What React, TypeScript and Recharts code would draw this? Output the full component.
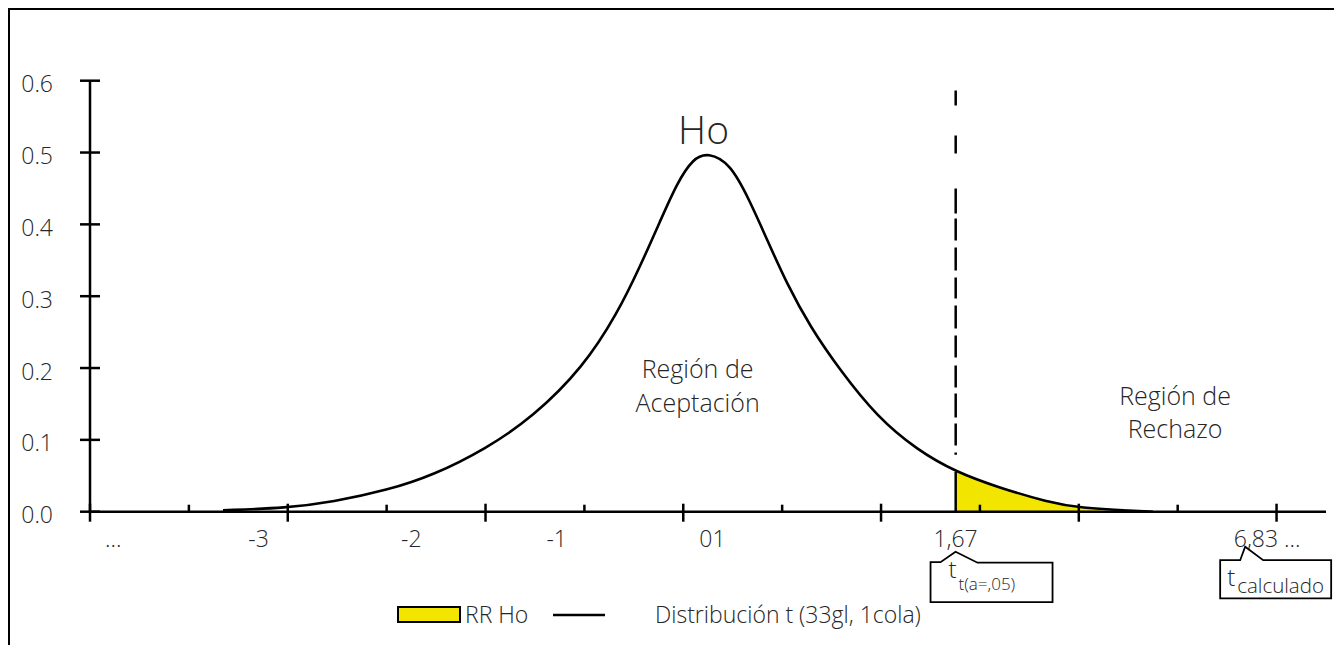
import React from 'react';
import { ComposedChart, Line, Area, XAxis, YAxis, ReferenceLine, ReferenceDot, Legend } from 'recharts';

// Curve: t value and density
const curveT = [-3.27, -2.84, -2.53, -2.16, -1.85, -1.5, -1.18, -0.84, -0.61, -0.46, -0.32, -0.21, -0.1, 0.0, 0.15, 0.28, 0.4, 0.53, 0.69, 0.89, 1.14, 1.41, 1.67, 1.97, 2.29, 2.51, 2.87, 3.0];
const curveDensity = [0.002, 0.0051, 0.0135, 0.03, 0.051, 0.0873, 0.1317, 0.2013, 0.2764, 0.3404, 0.4057, 0.4572, 0.492, 0.5, 0.485, 0.4335, 0.378, 0.318, 0.257, 0.197, 0.132, 0.086, 0.0553, 0.033, 0.0135, 0.005, 0.001, 0.0];

// Rejection region (yellow)
const rrT = [1.67, 1.97, 2.29, 2.51, 2.65];
const rrDensity = [0.0553, 0.033, 0.0135, 0.005, 0.002];

const criticalT = 1.67;
const dashTop = 0.5865;
const dashBottom = 0.0793;

const xDomain = [-4.1667, 4.1667];
const yTicks = [0, 0.1, 0.2, 0.3, 0.4, 0.5, 0.6];
const majorTicks = [-4.1667, -2.8333, -1.5, -0.1667, 1.1667, 2.5, 3.8333];
const minorTicks = [-3.5, -2.1667, -0.8333, 0.5, 1.8333, 3.1667];
const xLabelPos = [-4.01, -3.03, -2.0, -1.02, 0.03, 1.669, 3.77];
const xLabelText = ['...', '-3', '-2', '-1', '01', '1,67', '6,83 ...'];

const annotationText = ['Ho', 'Región de', 'Aceptación', 'Región de', 'Rechazo'];
const annotationT = [-0.03, -0.07, -0.07, 3.149, 3.149];
const annotationY = [0.5124, 0.1855, 0.1391, 0.1484, 0.1021];
const annotationSize = [39, 25, 25, 25, 25];

const legendNames = ['RR Ho', 'Distribución t (33gl, 1cola)'];

const curveData = curveT.map((t, i) => ({ t, d: curveDensity[i] }));
const rrData = rrT.map((t, i) => ({ t, rr: rrDensity[i] }));

const FONT = "'Open Sans', 'Noto Sans', sans-serif";
const FW = 350;
const TXT = '#262626';
const YELLOW = '#F2E500';

const Callout = ({ kind, x, y }: { kind: number; x: number; y: number }) => {
  if (kind === 5) {
    const d = `M${x - 25},${y + 50.5} L${x - 15},${y + 50.5} L${x},${y + 40} L${x + 22},${y + 51} L${x + 97},${y + 51} L${x + 97},${y + 90.5} L${x - 25},${y + 90.5} Z`;
    return (
      <g>
        <path d={d} fill="#fff" stroke="#000" strokeWidth={1.8} />
        <text x={x - 7} y={y + 66} fontSize={24} fill={TXT} fontFamily={FONT} fontWeight={FW}>t</text>
        <text x={x + 3} y={y + 78} fontSize={17} fill={TXT} fontFamily={FONT} fontWeight={FW}>t(a=,05)</text>
      </g>
    );
  }
  if (kind === 6) {
    const d = `M${x - 47},${y + 48.5} L${x - 27},${y + 48.5} L${x - 22},${y + 35} L${x - 4},${y + 48.5} L${x + 64},${y + 48.5} L${x + 64},${y + 86.6} L${x - 47},${y + 86.6} Z`;
    return (
      <g>
        <path d={d} fill="#fff" stroke="#000" strokeWidth={1.8} />
        <text x={x - 40} y={y + 74} fontSize={24} fill={TXT} fontFamily={FONT} fontWeight={FW}>t</text>
        <text x={x - 30} y={y + 81} fontSize={20.5} fill={TXT} fontFamily={FONT} fontWeight={FW}>calculado</text>
      </g>
    );
  }
  return null;
};

const XTick = (props: any) => {
  const { x, y, payload } = props;
  const v = payload.value;
  if (majorTicks.includes(v)) {
    return <line x1={x} x2={x} y1={y - 8} y2={y + 10} stroke="#000" strokeWidth={2.5} />;
  }
  if (minorTicks.includes(v)) {
    return <line x1={x} x2={x} y1={y - 7} y2={y} stroke="#000" strokeWidth={2.5} />;
  }
  const i = xLabelPos.indexOf(v);
  if (i >= 0) {
    return (
      <g>
        <text x={x} y={y + 35.5} textAnchor="middle" fontSize={23} fill={TXT} fontFamily={FONT} fontWeight={FW}>{xLabelText[i]}</text>
        <Callout kind={i} x={x} y={y} />
      </g>
    );
  }
  return null;
};

const YTick = (props: any) => {
  const { x, y, payload } = props;
  return (
    <g>
      <line x1={x - 10} x2={x + 10} y1={y} y2={y} stroke="#000" strokeWidth={2.5} />
      <text x={x - 37} y={y + 11.5} textAnchor="end" fontSize={23} fill={TXT} fontFamily={FONT} fontWeight={FW}>{Number(payload.value).toFixed(1)}</text>
    </g>
  );
};

const LegendContent = () => (
  <svg width={1330} height={48} style={{ display: 'block' }}>
    <rect x={390} y={17} width={62} height={15} fill={YELLOW} stroke="#000" strokeWidth={2} />
    <text x={457} y={33} fontSize={23} fill={TXT} fontFamily={FONT} fontWeight={FW}>{legendNames[0]}</text>
    <line x1={545} x2={597} y1={25} y2={25} stroke="#000" strokeWidth={2.5} />
    <text x={647} y={33} fontSize={23} fill={TXT} fontFamily={FONT} fontWeight={FW}>{legendNames[1]}</text>
  </svg>
);

export default function App() {
  const ticks = [...majorTicks, ...minorTicks, ...xLabelPos];
  return (
    <div style={{ position: 'relative', width: 1330, height: 660, fontFamily: FONT }}>
      <ComposedChart
        width={1330}
        height={660}
        margin={{ top: 72.7, right: 12, left: 0, bottom: 96.3 }}
        style={{ position: 'absolute', left: 0, top: 0 }}
      >
        <XAxis
          type="number"
          dataKey="t"
          domain={xDomain}
          allowDataOverflow
          ticks={ticks}
          interval={0}
          tickSize={0}
          tickMargin={0}
          tick={<XTick />}
          axisLine={{ stroke: '#000', strokeWidth: 2.5 }}
          tickLine={false}
          height={60}
        />
        <YAxis
          type="number"
          domain={[0, 0.6]}
          ticks={yTicks}
          interval={0}
          width={82}
          tickSize={0}
          tickMargin={0}
          tick={<YTick />}
          axisLine={{ stroke: '#000', strokeWidth: 2.5 }}
          tickLine={false}
        />
        <Area
          data={rrData}
          dataKey="rr"
          name={legendNames[0]}
          type="basis"
          fill={YELLOW}
          fillOpacity={1}
          stroke="none"
          isAnimationActive={false}
          dot={false}
          activeDot={false}
        />
        <Line
          data={curveData}
          dataKey="d"
          name={legendNames[1]}
          type="basis"
          stroke="#000"
          strokeWidth={2.6}
          dot={false}
          activeDot={false}
          isAnimationActive={false}
        />
        <ReferenceLine
          segment={[{ x: criticalT, y: 0 }, { x: criticalT, y: rrDensity[0] }]}
          stroke="#000"
          strokeWidth={2.5}
        />
        <ReferenceLine
          segment={[{ x: criticalT, y: dashTop }, { x: criticalT, y: dashBottom }]}
          stroke="#000"
          strokeWidth={2.5}
          strokeDasharray="15 30 18 35 25 5 22 7 23 7 21 7 23 7 22 8 22 6 24 6 22 7 3 50"
        />
        {annotationText.map((txt, i) => (
          <ReferenceDot
            key={i}
            x={annotationT[i]}
            y={annotationY[i]}
            r={1}
            ifOverflow="visible"
            shape={(p: any) => (
              <text x={p.cx} y={p.cy} textAnchor="middle" fontSize={annotationSize[i]} fill={TXT} fontFamily={FONT} fontWeight={FW}>{txt}</text>
            )}
          />
        ))}
        <Legend
          layout="horizontal"
          verticalAlign="middle"
          align="center"
          content={<LegendContent />}
          wrapperStyle={{ position: 'absolute', left: 0, top: 582, width: 1330, height: 48 }}
        />
      </ComposedChart>
      <div style={{ position: 'absolute', left: 0, top: 0, width: 1330, height: 660, boxSizing: 'border-box', border: '2px solid #000', pointerEvents: 'none' }} />
    </div>
  );
}
